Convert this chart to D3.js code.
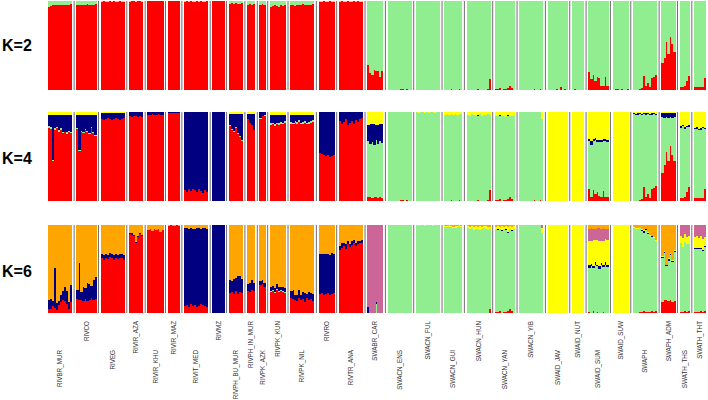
<!DOCTYPE html>
<html><head><meta charset="utf-8">
<script src="https://cdn.jsdelivr.net/npm/d3@7"></script>
<style>html,body{margin:0;padding:0;background:#fff;}svg{display:block;}</style>
</head><body>
<svg id="chart" width="708" height="400"></svg>
<script>
const populations = ["RIVBR_MUR","RIVCO","RIVEG","RIVIR_AZA","RIVIR_KHU","RIVIR_MAZ","RIVIT_MED","RIVMZ","RIVPH_BU_MUR","RIVPH_IN_MUR","RIVPK_AZK","RIVPK_KUN","RIVPK_NIL","RIVRO","RIVTR_ANA","SWABR_CAR","SWACN_ENS","SWACN_FUL","SWACN_GUI","SWACN_HUN","SWACN_YAN","SWACN_YIB","SWAID_JAV","SWAID_NUT","SWAID_SUM","SWAID_SUW","SWAPH","SWAPH_ADM","SWATH_THS","SWATH_THT"];
const sampleSizes = [12,10,12,7,8,6,12,6,7,4,3,8,12,8,12,8,12,12,9,12,10,12,10,6,10,8,12,7,5,6];
const panelLabels = ["K=2","K=4","K=6"];

// ---- K=2 membership (%) per individual, per population ----
const k2Red = [
[93,94,95,95,96,95,95,96,95,96,95,97],
[95,96,95,96,96,97,95,96,96,97],
[99,100,99,99,100,99,100,99,99,100,99,99],
[99,100,100,99,100,100,99],
[100,100,100,100,100,100,100,100],
[100,100,100,100,100,100],
[99,100,99,100,99,99,100,99,100,99,99,100],
[100,100,100,100,100,100],
[97,98,97,98,97,97,98],
[96,97,96,97],
[96,97,96],
[93,94,95,94,93,95,94,95],
[95,96,94,95,96,95,97,95,96,95,96,97],
[99,99,100,99,99,100,99,99],
[99,100,99,99,100,99,99,100,99,100,99,99],
[28,19,17,23,21,21,15,21],
[0,0,0,0,0,0,1,1,0,1,0,0],
[],
[0,0,0,1,0,0,0,1,0],
[0,0,0,0,0,1,0,0,0,0,1,12],
[1,1,2,0,1,1,2,5,2,0],
[0,0,0,0,0,0,0,1,0,0,1,0],
[0,0,0,0,1,0,3,0,1,0],
[0,1,0,0,0,0],
[20,12,17,10,15,14,5,5,15,5],
[0,1,1,0,1,0,0,1],
[0,0,0,1,2,16,5,8,3,14,15,17],
[30,36,54,40,60,52,43],
[3,3,5,10,16],
[3,3,3,3,3,14]
];
const k2Green = [
[7,6,5,5,4,5,5,4,5,4,5,3],
[5,4,5,4,4,3,5,4,4,3],
[1,0,1,1,0,1,0,1,1,0,1,1],
[1,0,0,1,0,0,1],
[],
[],
[1,0,1,0,1,1,0,1,0,1,1,0],
[],
[3,2,3,2,3,3,2],
[4,3,4,3],
[4,3,4],
[7,6,5,6,7,5,6,5],
[5,4,6,5,4,5,3,5,4,5,4,3],
[1,1,0,1,1,0,1,1],
[1,0,1,1,0,1,1,0,1,0,1,1],
[72,81,83,77,79,79,85,79],
[100,100,100,100,100,100,99,99,100,99,100,100],
[100,100,100,100,100,100,100,100,100,100,100,100],
[100,100,100,99,100,100,100,99,100],
[100,100,100,100,100,99,100,100,100,100,99,88],
[99,99,98,100,99,99,98,95,98,100],
[100,100,100,100,100,100,100,99,100,100,99,100],
[100,100,100,100,99,100,97,100,99,100],
[100,99,100,100,100,100],
[80,88,83,90,85,86,95,95,85,95],
[100,99,99,100,99,100,100,99],
[100,100,100,99,98,84,95,92,97,86,85,83],
[70,64,46,60,40,48,57],
[97,97,95,90,84],
[97,97,97,97,97,86]
];

// ---- K=4 ----
const k4Red = [
[82,81,45,80,82,78,80,76,77,75,78,76],
[81,56,78,76,80,78,75,82,76,73],
[92,91,92,93,92,91,92,93,92,91,92,93],
[95,94,95,96,94,95,94],
[97,97,98,97,97,98,97,97],
[99,99,99,99,99,99],
[12,10,13,11,14,12,10,13,11,9,12,10],
[],
[84,80,78,82,75,72,67],
[92,88,85,80],
[92,95,96],
[85,86,84,86,85,87,86,88],
[87,86,88,87,89,86,87,88,86,87,88,89],
[54,53,52,51,52,50,51,52],
[90,86,89,92,85,88,90,87,91,89,92,93],
[5,4,3,5,4,3,4,3],
[0,0,0,0,0,0,1,1,0,1,0,0],
[],
[0,0,0,1,0,0,0,1,0],
[0,0,0,0,0,1,0,0,0,0,1,12],
[1,1,2,0,1,1,2,5,2,0],
[0,0,0,0,0,0,0,1,0,0,1,0],
[],
[],
[14,5,12,8,10,6,4,11,4,4],
[],
[0,0,0,1,2,16,5,8,3,14,15,17],
[32,40,55,45,62,52,45],
[3,3,5,10,16],
[3,3,3,3,3,14]
];
const k4Green = [
[2,2,1,2,1,2,2,2,1,2,1,2],
[1,1,1,1,1,1,1,1,1,1],
[],[],[],[],[],[],
[1,1,1,1,1,1,1],
[],
[1,1,1],
[3,2,3,2,3,2,2,2],
[2,2,2,2,2,2,2,2,2,2,2,2],
[],[],
[62,60,63,58,64,61,63,62],
[100,100,100,100,100,100,99,99,100,99,100,100],
[100,99,100,100,99,100,99,100,100,99,100,100],
[97,98,97,97,97,98,97,97,98],
[97,96,98,97,96,95,98,96,97,97,97,85],
[94,94,94,95,94,93,94,90,93,95],
[100,100,100,100,100,100,100,99,100,100,99,92],
[],[],
[53,58,55,60,56,60,62,56,63,62],
[],
[98,97,97,97,95,82,92,90,94,83,83,80],
[62,53,39,48,32,41,49],
[79,81,76,73,67],
[78,78,77,77,79,67]
];
const k4Blue = [
[13,14,51,15,14,17,15,19,19,20,18,19],
[15,40,18,20,16,18,21,14,20,23],
[7,8,7,6,7,8,7,6,7,8,7,6],
[5,6,5,4,6,5,6],
[3,3,2,3,3,2,3,3],
[1,1,1,1,1,1],
[88,90,87,89,86,88,90,87,89,91,88,90],
[100,100,100,100,100,100],
[13,17,19,15,22,25,30],
[6,10,13,18],
[7,4,3],
[9,9,10,9,9,8,9,7],
[8,9,7,8,6,9,8,7,9,8,7,6],
[46,47,48,49,48,50,49,48],
[10,14,11,8,15,12,10,13,9,11,8,7],
[18,22,20,24,17,21,19,21],
[],[],[],
[0,0,0,0,0,1,0,0,0,0,0,0],
[1,0,1,0,1,0,1,1,0,1],
[],[],[],
[3,4,3,3,2,3,3,3,3,2],
[],
[1,1,2,1,1,1,2,1,1,2,1,1],
[5,6,5,6,5,6,5],
[2,1,2,1,2],
[1,2,1,2,1,1]
];
const k4Yellow = [
[3,3,3,3,3,3,3,3,3,3,3,3],
[3,3,3,3,3,3,3,3,3,3],
[1,1,1,1,1,1,1,1,1,1,1,1],
[],[],[],[],[],
[2,2,2,2,2,2,2],
[2,2,2,2],
[],
[3,3,3,3,3,3,3,3],
[3,3,3,3,3,3,3,3,3,3,3,3],
[],[],
[15,14,14,13,15,15,14,14],
[],
[0,1,0,0,1,0,1,0,0,1,0,0],
[3,2,3,2,3,2,3,2,2],
[3,4,2,3,4,3,2,4,3,3,2,3],
[4,5,3,5,4,6,3,4,5,4],
[0,0,0,0,0,0,0,0,0,0,0,8],
[100,100,100,100,100,100,100,100,100,100],
[100,100,100,100,100,100],
[30,33,30,29,32,31,31,30,30,32],
[100,100,100,100,100,100,100,100],
[1,2,1,1,2,1,1,1,2,1,1,2],
[1,1,1,1,1,1,1],
[16,15,17,16,15],
[18,17,19,18,17,18]
];

// ---- K=6 ----
const k6Red = [
[5,4,8,6,3,9,12,15,14,10,5,12],
[16,15,15,14,16,14,15,17,15,16],
[62,60,63,61,64,62,60,63,61,63,62,60],
[90,89,88,80,86,90,88],
[94,95,93,96,94,95,92,94],
[99,100,99,99,100,99],
[8,9,7,10,8,9,7,8,10,9,8,7],
[],
[23,24,22,25,22,24,23],
[25,24,26,25],
[32,33,30],
[24,25,23,26,24,25,24,23],
[17,16,15,14,17,15,16,13,17,15,16,14],
[22,23,21,22,23,21,22,23],
[72,74,76,73,78,75,77,80,76,78,79,80],
[],[],[],[],
[0,0,0,0,0,0,0,0,0,0,0,4],
[1,1,2,0,1,1,2,5,2,0],
[],[],[],
[1,0,2,0,1,0,0,1,0,0],
[],
[0,0,0,1,1,2,1,1,1,2,1,2],
[12,15,15,14,15,13,14],
[1,1,2,1,2],
[1,1,1,2,1,2]
];
const k6Green = [
[],[],[],[],[],[],[],[],[],[],[],
[1,1,1,1,1,1,1,1],
[],[],[],
[0,0,0,0,10,0,0,0],
[100,100,100,100,100,100,100,100,100,100,100,100],
[100,99,100,100,99,100,100,100,99,100,100,100],
[98,98,98,98,97,97,98,99,98],
[97,95,97,94,96,96,94,95,97,96,94,91],
[94,93,94,93,94,93,89,91,91,96],
[100,100,100,100,100,100,100,100,100,100,100,91],
[],[],
[50,53,49,55,52,50,54,51,55,52],
[],
[97,96,96,97,92,89,93,89,87,84,84,80],
[50,53,38,45,51,45,55],
[79,74,79,77,76],
[72,72,72,71,70,73]
];
const k6Blue = [
[10,12,6,45,8,5,8,10,16,15,7,20],
[10,42,9,15,12,20,18,14,22,25],
[5,6,4,5,4,5,6,4,5,4,5,6],
[1,2,1,1,2,1,1],
[],[],
[89,88,89,87,88,87,90,89,86,88,89,89],
[100,100,100,100,100,100],
[14,12,17,15,20,18,16],
[8,10,12,9],
[4,5,4],
[4,5,4,6,5,4,5,4],
[8,10,5,7,9,6,8,10,5,9,7,8],
[45,44,46,45,44,45,46,44],
[4,5,3,5,4,3,5,3,4,4,3,3],
[7,0,0,0,2,0,0,0],
[],[],[],[],
[0,1,0,1,0,1,1,0,1,0],
[],[],[],
[3,3,2,3,2,3,3,2,3,2],
[],
[0,0,0,0,1,2,1,1,0,1,0,0],
[2,1,1,2,1,1,2],
[],
[1,1,1,1,1,1]
];
const k6Yellow = [
[],[],[],[],[],[],[],[],[],[],[],[],[],[],[],[],[],
[0,1,0,0,1,0,0,0,1,0,0,0],
[1,1,2,1,1,2,1,1,1],
[2,3,2,4,3,2,5,3,2,3,4,3],
[3,4,2,5,3,4,6,3,4,3],
[0,0,0,0,0,0,0,0,0,0,0,6],
[100,100,100,100,100,100,100,100,100,100],
[100,100,100,100,100,100],
[28,26,30,25,28,29,25,28,26,29],
[100,100,100,100,100,100,100,100],
[1,1,1,0,1,1,1,1,1,1,1,1],
[1,1,1,1,1,1,1],
[8,10,9,8,10],
[12,14,11,13,12,10]
];
const k6Pink = [
[],[],[],[],[],[],[],[],[],[],[],[],[],[],[],
[93,100,100,100,88,100,100,100],
[],[],[],[],[],
[0,0,0,0,0,0,0,0,0,0,0,3],
[],[],
[14,15,13,13,14,15,14,15,12,13],
[],[],[],
[12,15,10,14,12],
[14,12,15,13,16,14]
];
const k6Orange = [
[85,84,86,49,89,86,80,75,70,75,88,68],
[74,43,76,71,72,66,67,69,63,59],
[33,34,33,34,32,33,34,33,34,33,33,34],
[9,9,11,19,12,9,11],
[6,5,7,4,6,5,8,6],
[1,0,1,1,0,1],
[3,3,4,3,4,4,3,3,4,3,3,4],
[],
[63,64,61,60,58,58,61],
[67,66,62,66],
[64,62,66],
[71,69,72,67,70,70,70,72],
[75,74,80,79,74,79,76,77,78,76,77,78],
[33,33,33,33,33,34,32,33],
[24,21,21,22,18,22,18,17,20,18,18,17],
[],[],[],
[1,1,0,1,2,1,1,0,1],
[1,2,1,2,1,2,1,2,1,1,2,2],
[2,1,2,1,2,1,2,1,2,1],
[],[],[],
[4,3,4,4,3,3,4,3,4,4],
[],
[2,3,3,2,5,6,4,8,11,12,14,17],
[35,30,45,38,32,40,28],
[],[]
];

const clusterColors = {red:"#FF0000", green:"#90EE90", blue:"#000080", yellow:"#FFFF00", pink:"#CC6699", orange:"#FFA500"};

const panels = [
  {label: panelLabels[0], series: {red: k2Red, green: k2Green}},
  {label: panelLabels[1], series: {red: k4Red, green: k4Green, blue: k4Blue, yellow: k4Yellow}},
  {label: panelLabels[2], series: {red: k6Red, green: k6Green, blue: k6Blue, yellow: k6Yellow, pink: k6Pink, orange: k6Orange}}
];

// layout
const panelTop = [1, 112, 225];
const panelH = [89, 89, 88];
const gapUnits = 2.2;
const starts = [];
let acc = 0;
sampleSizes.forEach((n, g) => { starts.push(acc); acc += n + gapUnits; });
const totalUnits = acc - gapUnits;
const x = d3.scaleLinear().domain([0, totalUnits]).range([48, 706]);

const svg = d3.select("#chart");
svg.append("rect").attr("width",708).attr("height",400).attr("fill","#fff");

panels.forEach((p, pi) => {
  const keys = Object.keys(p.series);
  const rows = [];
  sampleSizes.forEach((n, g) => {
    for (let i = 0; i < n; i++) {
      const r = {g, i, pos: starts[g] + i};
      keys.forEach(k => { const v = p.series[k][g][i]; r[k] = (v === undefined ? 0 : v); });
      rows.push(r);
    }
  });
  const stacked = d3.stack().keys(keys).offset(d3.stackOffsetExpand)(rows);
  const y = d3.scaleLinear().domain([0, 1]).range([panelTop[pi] + panelH[pi], panelTop[pi]]);
  const gp = svg.append("g");
  stacked.forEach(layer => {
    gp.append("g").attr("fill", clusterColors[layer.key]).attr("shape-rendering","crispEdges")
      .selectAll("rect").data(layer.filter(d => d[1] - d[0] > 0)).join("rect")
      .attr("x", d => x(d.data.pos))
      .attr("width", d => x(d.data.pos + 1) - x(d.data.pos) + 0.3)
      .attr("y", d => y(d[1]))
      .attr("height", d => y(d[0]) - y(d[1]));
  });
  // separators
  gp.append("g").selectAll("line").data(d3.range(1, populations.length)).join("line")
    .attr("x1", g => x(starts[g] - gapUnits / 2)).attr("x2", g => x(starts[g] - gapUnits / 2))
    .attr("y1", panelTop[pi]).attr("y2", panelTop[pi] + panelH[pi])
    .attr("stroke", "#6f6f6f").attr("stroke-width", 1);
  // panel label
  svg.append("text").attr("x", 2).attr("y", [51, 164, 277][pi])
    .attr("font-family", "Arial, 'Liberation Sans', sans-serif").attr("font-weight", "bold")
    .attr("font-size", 16).attr("fill", "#000").text(p.label);
});

// population labels
svg.append("g").selectAll("text").data(populations).join("text")
  .attr("transform", (d, g) => `translate(${x(starts[g] + sampleSizes[g] / 2)},${g % 2 === 0 ? 350 : 321}) rotate(-90)`)
  .attr("dy", "0.35em")
  .attr("text-anchor", "end")
  .attr("font-family", "Arial, 'Liberation Sans', sans-serif")
  .attr("font-size", 6.3)
  .attr("fill", "#333")
  .text(d => d);
</script>
</body></html>
